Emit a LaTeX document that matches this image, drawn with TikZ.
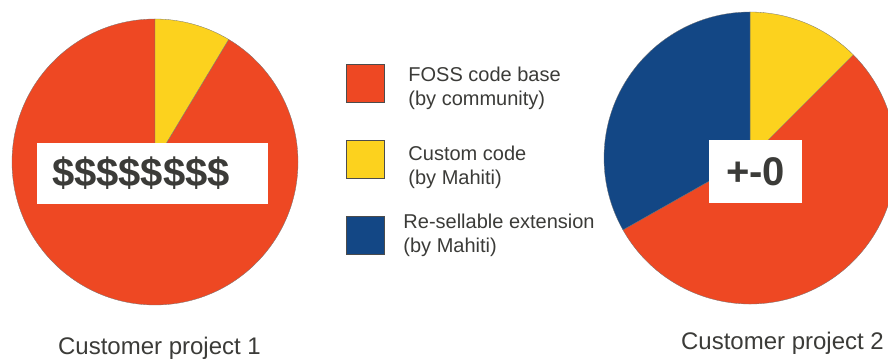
\documentclass[tikz,border=0pt]{standalone}
\usepackage{fontspec}
\setmainfont{Liberation Sans}
\usetikzlibrary{calc, positioning}
\definecolor{foss}{HTML}{EE4823}
\definecolor{custom}{HTML}{FCD21E}
\definecolor{resell}{HTML}{134785}
\definecolor{txt}{HTML}{3B3B38}
\tikzset{
 slice/.style={draw=black!55, line width=0.3pt},
 key/.style={draw=black!70, line width=0.5pt, minimum size=38pt, inner sep=0pt},
 keytext/.style={align=left, text=txt, inner sep=0pt, font=\fontsize{20}{24}\selectfont},
 pricebox/.style={fill=white, inner sep=0pt},
 price/.style={text=txt, inner sep=0pt, font=\fontsize{40}{40}\selectfont\bfseries},
 caption/.style={text=txt, inner sep=0pt, anchor=base, font=\fontsize{24}{24}\selectfont},
}

\begin{document}
\begin{tikzpicture}[x=1pt, y=1pt]
 \useasboundingbox (0,0) rectangle (888,363);

 % project 1
 \coordinate (P1) at (155,201);
 \filldraw[fill=foss, slice] (P1) -- ++(90:143) arc[start angle=90, end angle=419, radius=143] -- cycle;
 \filldraw[fill=custom, slice] (P1) -- ++(59:143) arc[start angle=59, end angle=90, radius=143] -- cycle;
 \draw node[pricebox, minimum width=231pt, minimum height=61pt] (B1) at (152.5,189.5) {};
 \draw (B1.west) ++ (15,0) node[price, anchor=west] (T1) {\$\$\$\$\$\$\$\$};
 \draw (159.5,8) node[caption] (C1) {Customer project 1};

 % project 2
 \coordinate (P2) at (750,205);
 \filldraw[fill=foss, slice] (P2) -- ++(209.5:146) arc[start angle=209.5, end angle=405, radius=146] -- cycle;
 \filldraw[fill=custom, slice] (P2) -- ++(45:146) arc[start angle=45, end angle=90, radius=146] -- cycle;
 \filldraw[fill=resell, slice] (P2) -- ++(90:146) arc[start angle=90, end angle=209.5, radius=146] -- cycle;
 \draw node[pricebox, minimum width=93pt, minimum height=63pt] (B2) at (755.5,191.5) {};
 \draw (B2) node[price] (T2) {+-0};
 \draw (782.5,13) node[caption] (C2) {Customer project 2};

 % legend
 \draw node[key, fill=foss] (KF) at (365,280) {};
 \draw node[key, fill=custom, below=37.5pt of KF] (KC) {};
 \draw node[key, fill=resell, below=37.5pt of KC] (KR) {};
 \draw node[keytext, right=24pt of KF.north east, anchor=north west, yshift=-3pt] (LF) {FOSS code base\\(by community)};
 \draw node[keytext, right=24pt of KC.north east, anchor=north west, yshift=-6pt] (LC) {Custom code\\(by Mahiti)};
 \draw node[keytext, right=19pt of KR.north east, anchor=north west, yshift=2pt] (LR) {Re-sellable extension\\(by Mahiti)};
\end{tikzpicture}
\end{document}
